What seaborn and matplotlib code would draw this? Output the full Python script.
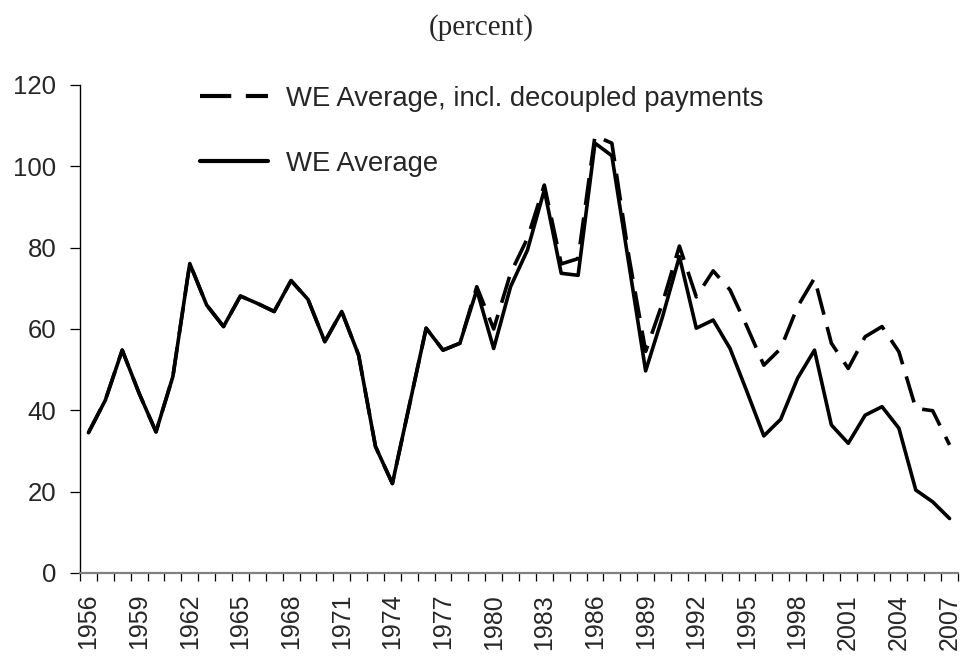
import numpy as np
import pandas as pd
import matplotlib
matplotlib.use("Agg")
import matplotlib.pyplot as plt
import seaborn as sns

years = list(range(1956, 2008))
we_average = [34.5, 42.5, 54.8, 44.2, 34.7, 48.3, 76.1, 65.9, 60.6, 68.1,
              66.3, 64.3, 71.9, 67.3, 56.9, 64.3, 53.6, 31.1, 22.0, 41.1,
              60.2, 54.8, 56.5, 69.6, 55.2, 70.4, 79.4, 94.2, 73.7, 73.2,
              105.7, 102.6, 76.2, 49.7, 63.0, 77.8, 60.2, 62.2, 55.2, 44.6,
              33.7, 37.8, 47.9, 54.8, 36.4, 31.9, 38.8, 40.9, 35.6, 20.4,
              17.5, 13.4]
we_avg_decoupled = [34.5, 42.5, 54.8, 44.2, 34.7, 48.3, 76.1, 65.9, 60.6, 68.1,
                    66.3, 64.3, 71.9, 67.3, 56.9, 64.3, 53.6, 31.1, 22.0, 41.1,
                    60.2, 54.8, 56.5, 70.4, 60.0, 73.7, 82.3, 95.4, 76.0, 77.3,
                    107.5, 105.7, 78.0, 54.5, 66.4, 80.4, 67.9, 74.3, 69.6, 60.6,
                    51.1, 55.2, 65.5, 72.5, 56.5, 50.3, 58.1, 60.6, 54.4, 40.5,
                    39.9, 31.5]
label_dec = "WE Average, incl. decoupled payments"
label_avg = "WE Average"
y_ticks = [0, 20, 40, 60, 80, 100, 120]
x_label_years = list(range(1956, 2008, 3))

df = pd.DataFrame({
    "year": years * 2,
    "value": we_avg_decoupled + we_average,
    "series": [label_dec] * len(years) + [label_avg] * len(years),
})

sns.set_style("white")
plt.rcParams["font.family"] = ["Liberation Sans", "DejaVu Sans"]

fig = plt.figure(figsize=(9.63, 6.6), dpi=100)
ax = fig.add_axes([80 / 963, 1 - 573 / 660, 878 / 963, 488 / 660])

sns.lineplot(data=df, x="year", y="value", style="series", hue="series",
             palette={label_dec: "black", label_avg: "black"},
             dashes={label_dec: (7.5, 3.5), label_avg: ""},
             style_order=[label_dec, label_avg], hue_order=[label_dec, label_avg],
             linewidth=2.6, ax=ax)

ax.set_xlim(1955.5, 2007.5)
ax.set_ylim(0, 120)
ax.set_yticks(y_ticks)
ax.set_yticklabels([str(v) for v in y_ticks], fontsize=18.5)
ax.set_xticks(x_label_years)
ax.set_xticklabels([str(y) for y in x_label_years], rotation=90, fontsize=18)
ax.set_xticks([y + 0.5 for y in range(1955, 2008)], minor=True)
ax.tick_params(axis="x", which="major", length=0, pad=15)
ax.tick_params(axis="x", which="minor", length=6, width=0.9, color="black", direction="out", bottom=True)
ax.tick_params(axis="y", which="major", length=7, width=0.9, color="black", direction="out", left=True, pad=10)
ax.set_xlabel("")
ax.set_ylabel("")

for s in ["top", "right"]:
    ax.spines[s].set_visible(False)
ax.spines["left"].set_color("black")
ax.spines["left"].set_linewidth(1.0)
ax.spines["bottom"].set_color("#808080")
ax.spines["bottom"].set_linewidth(1.6)

leg = ax.legend(loc="upper left", bbox_to_anchor=(0.137, 0.998), frameon=False,
                fontsize=19.8, handlelength=2.45, handletextpad=0.68,
                labelspacing=1.42, borderpad=0, borderaxespad=0, title=None)
for line in leg.get_lines():
    line.set_linewidth(3.0)

fig.text(0.5, 1 - 28 / 660, "(percent)", ha="center", va="center",
         fontsize=21, family=["Liberation Serif", "DejaVu Serif"])

fig.savefig("out.png", dpi=100)
